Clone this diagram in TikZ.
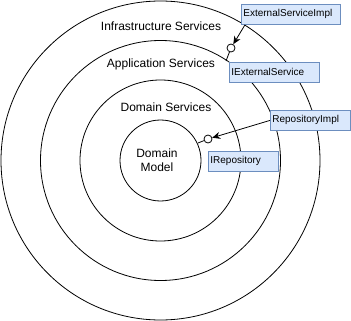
\documentclass[tikz,border=0pt]{standalone}
\usepackage{fontspec}
\setmainfont{Liberation Sans}
\usetikzlibrary{arrows.meta}
\definecolor{boxfill}{HTML}{DAE8FC}
\definecolor{boxline}{HTML}{6C8EBF}
\tikzset{
  ifbox/.style={draw=boxline, fill=boxfill, anchor=north west, align=left,
    inner xsep=2pt, inner ysep=0pt, minimum height=20pt,
    font=\fontsize{10}{12}\selectfont},
  socket/.style={circle, draw, fill=white, inner sep=0pt, minimum size=8pt},
  layer/.style={font=\fontsize{12}{14}\selectfont, align=center},
}
\begin{document}
\begin{tikzpicture}[x=1pt, y=-1pt, >={Stealth[length=8pt,width=7pt]}, line width=0.8pt]
  \useasboundingbox (0,0) rectangle (351,321);
  % layers: common center, radii 159.5 / 120 / 80.5 / 40.5
  \draw (160.5,160.5) circle (159.5);
  \draw (160.5,160.5) circle (120);
  \draw (160.5,160.5) circle (80.5);
  \draw (160.5,160.5) circle (40.5);
  \node[layer] (infra) at (161,26) {Infrastructure Services};
  \node[layer] (appl) at (161,64) {Application Services};
  \node[layer] (dsvc) at (166,107) {Domain Services};
  \node[layer] (model) at (157,160) {Domain\\Model};
  % lollipops (base point on the ring)
  \coordinate (extbase) at (226,61);
  \coordinate (repbase) at (198,143);
  \node[socket] (extsock) at (231,48) {};
  \node[socket] (repsock) at (208,139) {};
  \draw (extbase) -- (extsock);
  \draw (repbase) -- (repsock);
  % interface / implementation boxes
  \node[ifbox, text width=95pt] (extimpl) at (241,4) {ExternalServiceImpl};
  \node[ifbox, text width=86pt] (extif) at (229,62) {IExternalService};
  \node[ifbox, text width=76pt] (repimpl) at (270,110) {RepositoryImpl};
  \node[ifbox, text width=66pt] (repif) at (208,151) {IRepository};
  \draw[->] ([xshift=4pt]extimpl.south west) -- (extsock);
  \draw[->] (repimpl.west) -- (repsock);
\end{tikzpicture}
\end{document}
